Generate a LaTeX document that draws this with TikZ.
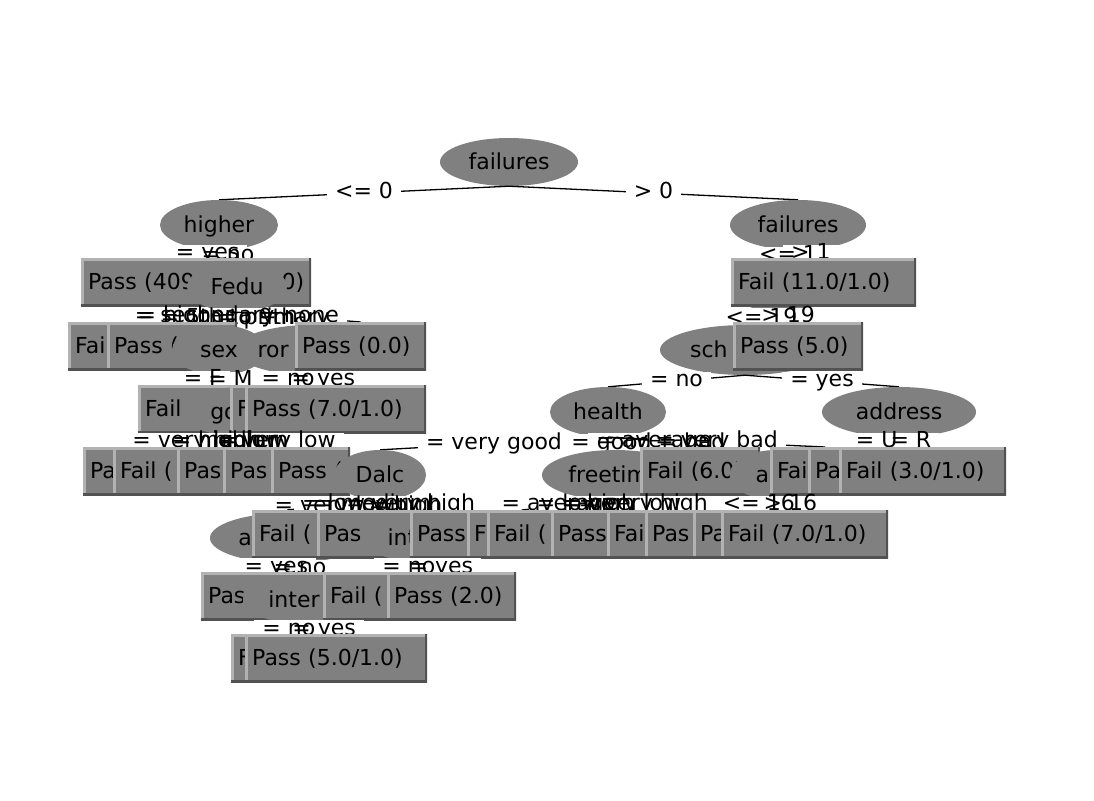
\documentclass[tikz,border=0pt]{standalone}
\usepackage{fontspec}
\setmainfont{DejaVu Sans}
\usetikzlibrary{shapes.geometric}

\definecolor{nodegray}{RGB}{128,128,128}
\definecolor{boxlight}{RGB}{178,178,178}
\definecolor{boxdark}{RGB}{82,82,82}

% one layer per tree level for nodes, then for the edges and their labels
\pgfdeclarelayer{n0}\pgfdeclarelayer{e0}\pgfdeclarelayer{t0}
\pgfdeclarelayer{n1}\pgfdeclarelayer{e1}\pgfdeclarelayer{t1}
\pgfdeclarelayer{n2}\pgfdeclarelayer{e2}\pgfdeclarelayer{t2}
\pgfdeclarelayer{n3}\pgfdeclarelayer{e3}\pgfdeclarelayer{t3}
\pgfdeclarelayer{n4}\pgfdeclarelayer{e4}\pgfdeclarelayer{t4}
\pgfdeclarelayer{n5}\pgfdeclarelayer{e5}\pgfdeclarelayer{t5}
\pgfdeclarelayer{n6}\pgfdeclarelayer{e6}\pgfdeclarelayer{t6}
\pgfdeclarelayer{n7}\pgfdeclarelayer{e7}\pgfdeclarelayer{t7}
\pgfdeclarelayer{n8}
\pgfsetlayers{n0,e0,t0,n1,e1,t1,n2,e2,t2,n3,e3,t3,n4,e4,t4,n5,e5,t5,n6,e6,t6,n7,e7,t7,n8,main}

\tikzset{
  treefont/.style={font=\fontsize{22}{26}\selectfont},
  splitnode/.style={ellipse, fill=nodegray, draw=none, inner sep=0pt,
    minimum height=50pt, text height=16pt, text depth=2pt, treefont},
  leafbox/.style={rectangle, fill=nodegray, draw=none, anchor=north west,
    minimum height=48pt, inner xsep=7pt, inner ysep=0pt, align=left,
    text height=16pt, text depth=2pt, treefont,
    path picture={
      \draw[line width=5pt, boxlight] (path picture bounding box.south west)
        -- (path picture bounding box.north west) -- (path picture bounding box.north east);
      \draw[line width=5pt, boxdark] (path picture bounding box.north east)
        -- (path picture bounding box.south east) -- (path picture bounding box.south west);
    }},
  treeedge/.style={draw=black, line width=1.3pt},
  edgelabelbg/.style={fill=white, inner xsep=8pt, inner ysep=0pt,
    text height=15pt, text depth=4pt, treefont},
  edgelabel/.style={inner xsep=8pt, inner ysep=0pt,
    text height=15pt, text depth=4pt, treefont},
}

% leaf: name, left, top, width, text
\newcommand\leaf[5]{%
  \pgfmathsetmacro\leaftw{#4-14}%
  \node[leafbox, text width=\leaftw pt] (#1) at (#2,#3) {#5};}

% branches of one level: white label backgrounds first, then the label texts
\newcommand\branches[2]{%
  \begin{pgfonlayer}{e#1}
    \foreach \p/\c/\l in {#2}{%
      \draw[treeedge] (\p.south) -- (\c.north) node[edgelabelbg,pos=.5]{\phantom{\l}};}
  \end{pgfonlayer}
  \begin{pgfonlayer}{t#1}
    \foreach \p/\c/\l in {#2}{%
      \path (\p.south) -- (\c.north) node[edgelabel,pos=.5]{\l};}
  \end{pgfonlayer}}

\begin{document}
\begin{tikzpicture}[x=1pt,y=-1pt]
\useasboundingbox (0,0) rectangle (1094,800);

\begin{pgfonlayer}{n0}
  \fill[white] (0,0) rectangle (1094,800);
  \node[splitnode, minimum width=138pt, minimum height=48pt] (root) at (509,162) {failures};
\end{pgfonlayer}

\begin{pgfonlayer}{n1}
  \node[splitnode, minimum width=118pt] (higher) at (219,225) {higher};
  \node[splitnode, minimum width=136pt] (fail2) at (798,225) {failures};
\end{pgfonlayer}

\begin{pgfonlayer}{n2}
  \leaf{pass409}{81}{258}{230}{Pass (409\hfill 0)}
  \node[splitnode, minimum width=100pt] (fedu) at (237,287) {Fedu};
  \node[splitnode, minimum width=93pt] (age1) at (778,287) {};
  \leaf{fail11}{731}{258}{185}{Fail (11.0/1.0)}
\end{pgfonlayer}

\begin{pgfonlayer}{n3}
  \leaf{fai3}{68}{322}{132}{Fai}
  \leaf{passp3}{107}{322}{130}{Pass (}
  \node[splitnode, minimum width=94pt] (sex) at (219,350) {sex};
  \node[splitnode, minimum width=150pt] (ror) at (311,350) {ror\phantom{mantic}};
  \leaf{pass0}{295}{322}{131}{Pass (0.0)}
  \node[splitnode, minimum width=170pt] (sch) at (745,350) {sch\phantom{oolsup}};
  \leaf{pass5}{733}{322}{130}{Pass (5.0)}
\end{pgfonlayer}

\begin{pgfonlayer}{n4}
  \leaf{fail4}{138}{385}{97}{Fail}
  \node[splitnode, minimum width=116pt] (goout) at (242,412) {go\phantom{out}};
  \leaf{f4}{230}{385}{70}{F}
  \leaf{pass7}{245}{385}{181}{Pass (7.0/1.0)}
  \node[splitnode, minimum width=116pt] (health) at (608,412) {health};
  \node[splitnode, minimum width=154pt] (address) at (899,412) {address};
\end{pgfonlayer}

\begin{pgfonlayer}{n5}
  \leaf{pa5}{83}{447}{137}{Pa}
  \leaf{fail5}{113}{447}{127}{Fail (}
  \leaf{pas5a}{177}{447}{83}{Pas}
  \leaf{pas5b}{223}{447}{77}{Pas}
  \leaf{passp5}{271}{447}{79}{Pass (}
  \node[splitnode, minimum width=92pt] (dalc) at (380,475) {Dalc};
  \node[splitnode, minimum width=146pt] (freetime) at (615,475) {freetim\phantom{e}};
  \leaf{fail6}{640}{447}{120}{Fail (6.0)}
  \node[splitnode, minimum width=93pt] (age2) at (776,475) {a\phantom{ge}};
  \leaf{fai5}{770}{447}{110}{Fai}
  \leaf{pa5r}{808}{447}{92}{Pa}
  \leaf{fail3}{839}{447}{167}{Fail (3.0/1.0)}
\end{pgfonlayer}

\begin{pgfonlayer}{n6}
  \node[splitnode, minimum width=156pt] (activities) at (288,538) {a\phantom{ctivities}};
  \leaf{fail6a}{252}{510}{70}{Fail (}
  \leaf{pas6}{317}{510}{98}{Pas}
  \node[splitnode, minimum width=139pt] (internet) at (431,538) {int\phantom{ernet}};
  \leaf{pass6}{410}{510}{62}{Pass}
  \leaf{f6}{467}{510}{73}{F}
  \leaf{fail6b}{487}{510}{69}{Fail (}
  \leaf{pass6b}{551}{510}{61}{Pass}
  \leaf{fai6}{607}{510}{43}{Fai}
  \leaf{pas6b}{645}{510}{53}{Pas}
  \leaf{pa6}{693}{510}{97}{Pa}
  \leaf{fail7}{721}{510}{167}{Fail (7.0/1.0)}
\end{pgfonlayer}

\begin{pgfonlayer}{n7}
  \leaf{pas7}{201}{572}{127}{Pas}
  \node[splitnode, minimum width=138pt] (inter) at (312,600) {inter\phantom{net}};
  \leaf{fail7a}{323}{572}{127}{Fail (}
  \leaf{pass2}{387}{572}{129}{Pass (2.0)}
\end{pgfonlayer}

\begin{pgfonlayer}{n8}
  \leaf{f8}{231}{634}{69}{F}
  \leaf{pass51}{245}{634}{182}{Pass (5.0/1.0)}
\end{pgfonlayer}

\branches{0}{root/higher/<= 0, root/fail2/> 0}
\branches{1}{higher/pass409/= yes, higher/fedu/= no,
  fail2/age1/<= 1, fail2/fail11/> 1}
\branches{2}{fedu/fai3/= higher, fedu/passp3/= secondary, fedu/sex/= 5th to 9th,
  fedu/ror/= primary, fedu/pass0/= none,
  age1/sch/<= 19, age1/pass5/> 19}
\branches{3}{sex/fail4/= F, sex/goout/= M, ror/f4/= no, ror/pass7/= yes,
  sch/health/= no, sch/address/= yes}
\branches{4}{goout/pa5/= very high, goout/fail5/= high, goout/pas5a/= medium,
  goout/pas5b/= low, goout/passp5/= very low,
  health/dalc/= very good, health/freetime/= good, health/fail6/= average,
  health/age2/= bad, health/fai5/= very bad,
  address/pa5r/= U, address/fail3/= R}
\branches{5}{dalc/activities/= very low, dalc/fail6a/= low, dalc/pas6/= medium,
  dalc/internet/= high, dalc/pass6/= very high,
  freetime/f6/= average, freetime/fail6b/= low, freetime/pass6b/= high,
  freetime/fai6/= very low, freetime/pas6b/= very high,
  age2/pa6/<= 16, age2/fail7/> 16}
\branches{6}{activities/pas7/= yes, activities/inter/= no,
  internet/fail7a/= no, internet/pass2/= yes}
\branches{7}{inter/f8/= no, inter/pass51/= yes}

\end{tikzpicture}
\end{document}
